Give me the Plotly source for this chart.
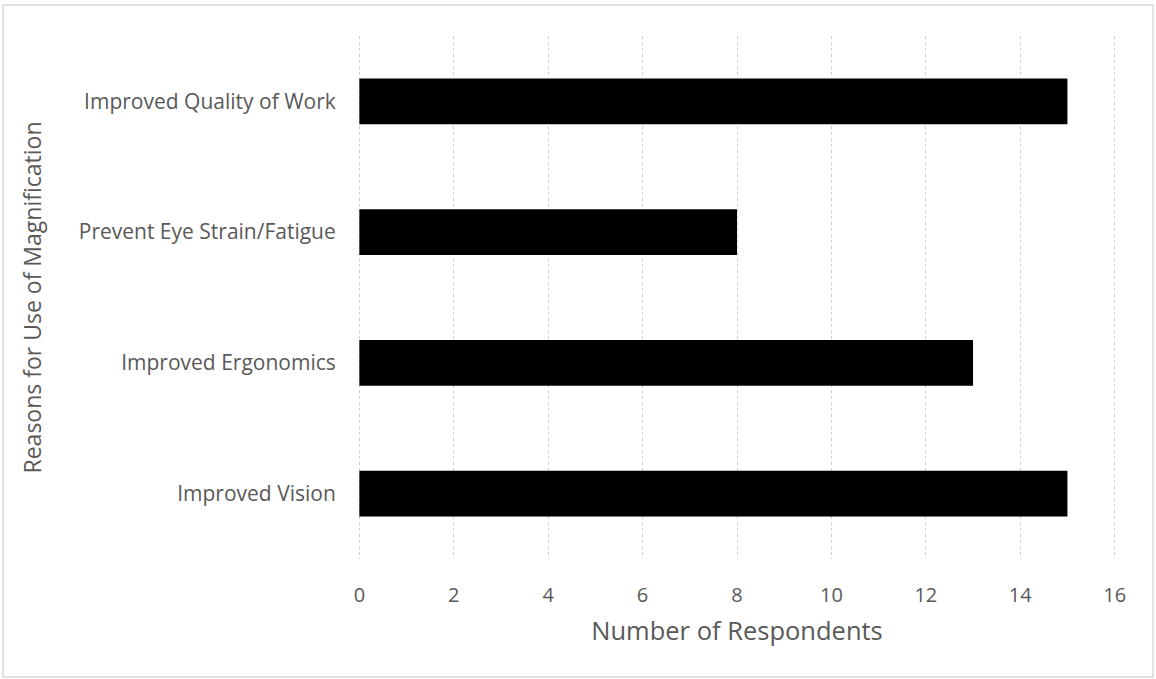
import plotly.graph_objects as go

categories = ["Improved Vision", "Improved Ergonomics", "Prevent Eye Strain/Fatigue", "Improved Quality of Work"]
values = [15, 13, 8, 15]
x_ticks = [0, 2, 4, 6, 8, 10, 12, 14, 16]

W, H = 1156, 679
L, R, T, B = 357, 39, 36, 120
pw, ph = W - L - R, H - T - B

fig = go.Figure(go.Bar(
    y=categories, x=values, orientation="h",
    marker=dict(color="#000000", line=dict(color="#000000", width=0)),
    width=0.35,
))

font = "Open Sans, Noto Sans, sans-serif"
fig.update_layout(
    width=W, height=H,
    margin=dict(l=L, r=R, t=T, b=B, autoexpand=False),
    paper_bgcolor="white", plot_bgcolor="white",
    showlegend=False,
    font=dict(family=font, color="#595959", size=21),
    xaxis=dict(
        range=[-0.05, 16.05], tickvals=x_ticks, ticktext=[str(v) for v in x_ticks],
        showgrid=True, gridcolor="#cfcfcf", griddash="dot", gridwidth=1,
        zeroline=False, showline=False,
        ticks="outside", ticklen=18, tickcolor="rgba(0,0,0,0)",
        tickfont=dict(size=20, color="#595959"),
        title=dict(text="Number of Respondents", font=dict(size=25.5, color="#595959"), standoff=15),
    ),
    yaxis=dict(
        categoryorder="array", categoryarray=categories,
        range=[-0.5, 3.5],
        showgrid=False, zeroline=False, showline=False,
        ticks="outside", ticklen=16, tickcolor="rgba(0,0,0,0)",
        tickfont=dict(size=21, color="#595959"),
        title=dict(text="Reasons for Use of Magnification", font=dict(size=23, color="#595959"), standoff=30),
    ),
)

fig.add_shape(
    type="rect", xref="paper", yref="paper",
    x0=(3 - L) / pw, x1=(1153 - L) / pw,
    y0=(H - B - 677) / ph, y1=(H - B - 5) / ph,
    line=dict(color="#d9d9d9", width=1.5), fillcolor="rgba(0,0,0,0)", layer="below",
)

fig.write_html("out.html")
